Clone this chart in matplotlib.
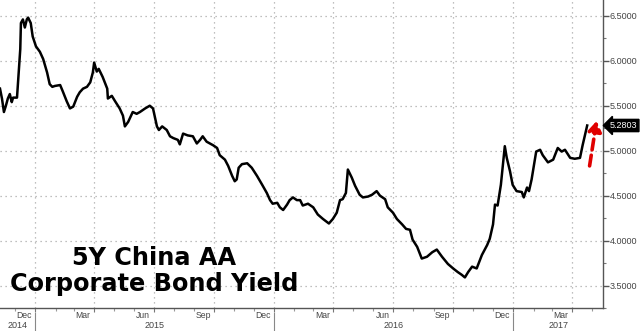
import matplotlib
matplotlib.use("Agg")
import matplotlib.pyplot as plt
import matplotlib.dates as mdates
import matplotlib.transforms as mtransforms
import pandas as pd

# 5Y China AA corporate bond yield
dates = [
    "2014-11-08", "2014-11-11", "2014-11-14", "2014-11-17", "2014-11-20", "2014-11-23",
    "2014-11-26", "2014-11-28", "2014-12-04", "2014-12-06", "2014-12-09", "2014-12-10",
    "2014-12-13", "2014-12-16", "2014-12-19", "2014-12-21", "2014-12-25", "2014-12-28",
    "2015-01-02", "2015-01-08", "2015-01-13", "2015-01-19", "2015-01-23", "2015-01-27",
    "2015-01-31", "2015-02-08", "2015-02-12", "2015-02-18", "2015-02-23", "2015-02-28",
    "2015-03-06", "2015-03-10", "2015-03-15", "2015-03-21", "2015-03-26", "2015-03-30",
    "2015-04-01", "2015-04-05", "2015-04-08", "2015-04-14", "2015-04-21", "2015-04-22",
    "2015-04-28", "2015-05-03", "2015-05-10", "2015-05-15", "2015-05-18", "2015-05-23",
    "2015-05-30", "2015-06-05", "2015-06-10", "2015-06-18", "2015-06-25", "2015-06-30",
    "2015-07-06", "2015-07-09", "2015-07-14", "2015-07-21", "2015-07-26", "2015-07-31",
    "2015-08-07", "2015-08-10", "2015-08-15", "2015-08-22", "2015-08-30", "2015-09-05",
    "2015-09-10", "2015-09-14", "2015-09-20", "2015-09-25", "2015-09-30", "2015-10-06",
    "2015-10-10", "2015-10-18", "2015-10-23", "2015-10-29", "2015-11-02", "2015-11-05",
    "2015-11-08", "2015-11-13", "2015-11-21", "2015-11-28", "2015-12-06", "2015-12-14",
    "2015-12-21", "2015-12-26", "2015-12-30", "2016-01-06", "2016-01-10", "2016-01-15",
    "2016-01-21", "2016-01-25", "2016-01-30", "2016-02-05", "2016-02-10", "2016-02-14",
    "2016-02-22", "2016-03-01", "2016-03-08", "2016-03-16", "2016-03-25", "2016-03-31",
    "2016-04-06", "2016-04-11", "2016-04-15", "2016-04-20", "2016-04-23", "2016-04-29",
    "2016-05-04", "2016-05-11", "2016-05-16", "2016-05-24", "2016-05-30", "2016-06-06",
    "2016-06-11", "2016-06-19", "2016-06-23", "2016-07-01", "2016-07-07", "2016-07-15",
    "2016-07-21", "2016-07-27", "2016-07-31", "2016-08-07", "2016-08-14", "2016-08-22",
    "2016-08-30", "2016-09-06", "2016-09-14", "2016-09-23", "2016-10-01", "2016-10-08",
    "2016-10-14", "2016-10-19", "2016-10-24", "2016-10-30", "2016-11-06", "2016-11-14",
    "2016-11-22", "2016-11-26", "2016-12-01", "2016-12-04", "2016-12-08", "2016-12-13",
    "2016-12-16", "2016-12-19", "2016-12-22", "2016-12-27", "2016-12-31", "2017-01-06",
    "2017-01-14", "2017-01-17", "2017-01-22", "2017-01-25", "2017-01-29", "2017-02-01",
    "2017-02-05", "2017-02-11", "2017-02-15", "2017-02-23", "2017-03-03", "2017-03-10",
    "2017-03-16", "2017-03-21", "2017-03-29", "2017-04-05", "2017-04-13", "2017-04-17",
    "2017-04-24",
]
yields = [
    5.69, 5.58, 5.43, 5.50, 5.58, 5.63,
    5.54, 5.59, 5.59, 5.80, 6.13, 6.42,
    6.46, 6.37, 6.46, 6.48, 6.42, 6.27,
    6.16, 6.10, 6.02, 5.87, 5.74, 5.71,
    5.72, 5.73, 5.66, 5.55, 5.47, 5.49,
    5.60, 5.65, 5.69, 5.71, 5.76, 5.87,
    5.98, 5.88, 5.91, 5.82, 5.69, 5.58,
    5.61, 5.55, 5.47, 5.39, 5.27, 5.32,
    5.43, 5.41, 5.43, 5.47, 5.50, 5.47,
    5.27, 5.23, 5.27, 5.23, 5.16, 5.14,
    5.12, 5.07, 5.19, 5.17, 5.16, 5.08,
    5.12, 5.16, 5.10, 5.08, 5.06, 5.03,
    4.95, 4.90, 4.83, 4.72, 4.66, 4.68,
    4.81, 4.85, 4.86, 4.81, 4.72, 4.62,
    4.53, 4.45, 4.41, 4.42, 4.37, 4.34,
    4.40, 4.45, 4.48, 4.45, 4.45, 4.39,
    4.41, 4.37, 4.29, 4.24, 4.19, 4.24,
    4.31, 4.45, 4.46, 4.53, 4.79, 4.70,
    4.61, 4.51, 4.48, 4.49, 4.51, 4.55,
    4.50, 4.46, 4.37, 4.31, 4.24, 4.18,
    4.13, 4.12, 4.01, 3.93, 3.80, 3.82,
    3.87, 3.90, 3.82, 3.74, 3.69, 3.65,
    3.62, 3.59, 3.65, 3.71, 3.69, 3.84,
    3.95, 4.02, 4.18, 4.40, 4.39, 4.62,
    4.84, 5.05, 4.92, 4.77, 4.62, 4.55,
    4.54, 4.48, 4.59, 4.55, 4.68, 4.81,
    4.99, 5.01, 4.95, 4.87, 4.90, 5.03,
    4.99, 5.01, 4.92, 4.91, 4.92, 5.06,
    5.28,
]
last_value = "5.2803"
y_ticks = [3.5, 4.0, 4.5, 5.0, 5.5, 6.0, 6.5]
month_labels = [("2014-12-15", "Dec"), ("2015-03-15", "Mar"), ("2015-06-15", "Jun"),
                ("2015-09-15", "Sep"), ("2015-12-15", "Dec"), ("2016-03-15", "Mar"),
                ("2016-06-15", "Jun"), ("2016-09-15", "Sep"), ("2016-12-15", "Dec"),
                ("2017-03-15", "Mar")]
years = ["2014", "2015", "2016", "2017"]
title = "5Y China AA\nCorporate Bond Yield"

x = pd.to_datetime(dates)
x_start = pd.Timestamp("2014-11-08")
x_end = pd.Timestamp("2017-05-18")

fig = plt.figure(figsize=(6.4, 3.31), dpi=100)
ax = fig.add_axes([0.0, 0.0695, 0.942, 0.9305])

ax.plot(x, yields, color="black", lw=1.8, zorder=3)

ax.set_xlim(x_start, x_end)
ax.set_ylim(3.291, 6.676)

# spines: only bottom and right
for side in ["top", "left"]:
    ax.spines[side].set_visible(False)
for side in ["bottom", "right"]:
    ax.spines[side].set_color("#555555")
    ax.spines[side].set_linewidth(1.0)

# y axis on the right
ax.yaxis.tick_right()
ax.set_yticks(y_ticks)
ax.set_yticks([v + 0.25 for v in y_ticks[:-1]] + [3.25], minor=True)
ax.yaxis.set_major_formatter(plt.FormatStrFormatter("%.4f"))
ax.tick_params(axis="y", which="major", direction="out", length=4, width=1,
               color="#555555", labelsize=6.5, labelcolor="#444444", pad=1)
ax.tick_params(axis="y", which="minor", direction="out", length=2, width=0.8,
               color="#777777")
for lab in ax.get_yticklabels():
    lab.set_family("Liberation Sans")

# x axis: quarterly grid, monthly ticks, labels drawn separately
ax.xaxis.set_major_locator(mdates.MonthLocator(bymonth=[1, 4, 7, 10]))
ax.xaxis.set_minor_locator(mdates.MonthLocator())
ax.xaxis.set_major_formatter(plt.NullFormatter())
ax.tick_params(axis="x", which="major", direction="out", length=3, width=0.8,
               color="#777777")
ax.tick_params(axis="x", which="minor", direction="out", length=2, width=0.8,
               color="#999999")

ax.grid(True, which="major", color="#aaaaaa", linestyle=(0, (1, 3)), lw=0.9)

trans = mtransforms.blended_transform_factory(ax.transData, ax.transAxes)
for d, lab in month_labels:
    ax.text(pd.Timestamp(d), -0.024, lab, transform=trans, ha="center", va="center",
            fontsize=6.2, color="#444444", family="Liberation Sans")

# year labels centred on the visible part of each year, with separators
for yr in years:
    a = max(pd.Timestamp(yr + "-01-01"), x_start)
    b = min(pd.Timestamp(str(int(yr) + 1) + "-01-01"), x_end)
    ax.text(a + (b - a) / 2, -0.056, yr, transform=trans, ha="center", va="center",
            fontsize=6.5, color="#444444", family="Liberation Sans")
    if pd.Timestamp(yr + "-01-01") > x_start:
        ax.plot([pd.Timestamp(yr + "-01-01")] * 2, [-0.015, -0.075], transform=trans,
                color="#888888", lw=0.8, clip_on=False)

# title text inside the plot
ax.text(0.255, 0.12, title, transform=ax.transAxes, ha="center", va="center",
        fontsize=17.3, fontweight="bold", family="DejaVu Sans", linespacing=1.1,
        color="black", zorder=4)

# last value tag on the right axis
ax.annotate(last_value, xy=(1.0, yields[-1]), xycoords=ax.get_yaxis_transform(),
            xytext=(5, 0), textcoords="offset points", ha="left", va="center",
            fontsize=6.5, color="white", family="Liberation Sans",
            bbox=dict(boxstyle="larrow,pad=0.18", fc="black", ec="black"),
            annotation_clip=False, zorder=6)

# red dashed arrow
ax.annotate("", xy=(pd.Timestamp("2017-05-09"), 5.36),
            xytext=(pd.Timestamp("2017-04-27"), 4.80),
            arrowprops=dict(arrowstyle="-|>,head_width=0.4,head_length=0.6",
                            color="#e00000", lw=2.6, linestyle=(0, (3, 1.5))),
            zorder=5)

plt.savefig("out.png", dpi=100)
